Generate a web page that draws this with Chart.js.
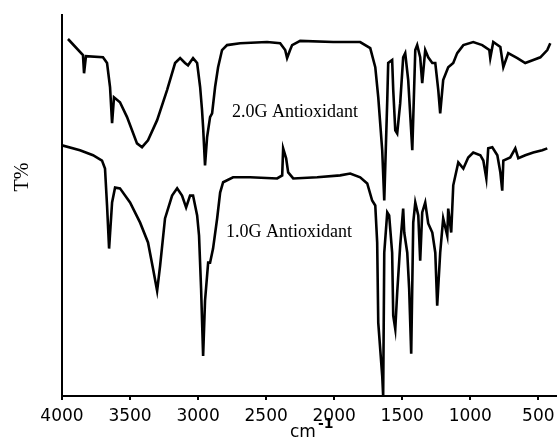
<!DOCTYPE html>
<html>
<head>
<meta charset="utf-8">
<script src="https://cdn.jsdelivr.net/npm/chart.js@4"></script>
<style>
  html, body { margin: 0; padding: 0; background: #fff; }
  #wrap { width: 558px; height: 441px; }
</style>
</head>
<body>
<div id="wrap"><canvas id="irChart" width="558" height="441"></canvas></div>
<script>
// FTIR spectra (wavenumber cm-1 / transmittance, arbitrary offset units)
const xTicks = [4000, 3500, 3000, 2500, 2000, 1500, 1000, 500];
const xTitle = 'cm';
const xTitleSup = '-1';
const yTitle = 'T%';
const labelTop = '2.0G Antioxidant';
const labelBottom = '1.0G Antioxidant';

const wn2G = [3956, 3846, 3838, 3824, 3699, 3669, 3647, 3632, 3618, 3574, 3522, 3449, 3412, 3368, 3301, 3228,
  3169, 3132, 3096, 3074, 3037, 3007, 2985, 2971, 2963, 2949, 2934, 2912, 2897, 2875, 2853, 2824, 2787, 2691,
  2493, 2397, 2360, 2346, 2324, 2309, 2250, 2007, 1904, 1809, 1735, 1698, 1676, 1647, 1632, 1610, 1603, 1574,
  1566, 1551, 1537, 1515, 1493, 1478, 1456, 1426, 1404, 1390, 1368, 1353, 1331, 1309, 1279, 1257, 1235, 1221,
  1199, 1162, 1125, 1096, 1051, 978, 912, 860, 853, 831, 779, 757, 721, 654, 596, 537, 485, 434, 412];
const t2G = [93.7, 89.5, 84.7, 89.2, 88.9, 87.4, 81.1, 71.6, 78.4, 77.1, 73.2, 66.3, 65.3, 67.1, 72.4, 80.3,
  87.4, 88.7, 87.4, 86.8, 88.7, 87.4, 81.1, 75.0, 70.5, 60.5, 67.9, 73.2, 74.2, 81.1, 86.3, 90.8, 92.1, 92.6,
  92.9, 92.6, 90.8, 88.7, 90.8, 92.1, 93.2, 92.9, 92.9, 92.9, 91.3, 86.3, 78.4, 64.5, 51.3, 77.6, 87.4, 88.2,
  80.3, 69.7, 68.9, 76.8, 88.9, 90.0, 82.9, 64.5, 90.8, 92.1, 88.9, 82.1, 90.8, 88.9, 87.4, 87.4, 80.3, 74.2,
  82.9, 86.3, 87.4, 90.0, 92.1, 92.9, 92.1, 90.8, 88.7, 92.9, 91.6, 86.3, 90.0, 88.7, 87.4, 88.2, 88.9, 90.8, 92.6];

const wn1G = [4000, 3868, 3772, 3706, 3684, 3669, 3654, 3632, 3610, 3574, 3500, 3426, 3368, 3331, 3301, 3279,
  3243, 3191, 3154, 3118, 3088, 3059, 3037, 3007, 2993, 2978, 2963, 2949, 2926, 2912, 2890, 2860, 2838, 2816,
  2743, 2618, 2419, 2382, 2375, 2353, 2338, 2301, 2125, 1956, 1882, 1809, 1757, 1721, 1698, 1684, 1676, 1647,
  1640, 1632, 1610, 1596, 1574, 1566, 1551, 1537, 1515, 1493, 1485, 1463, 1449, 1434, 1419, 1404, 1382, 1368,
  1353, 1331, 1309, 1279, 1257, 1243, 1221, 1199, 1169, 1162, 1140, 1125, 1088, 1051, 1015, 978, 926, 904, 882,
  868, 838, 801, 779, 765, 757, 706, 669, 647, 596, 537, 471, 434];
const t1G = [65.8, 64.5, 63.2, 61.8, 59.7, 50.0, 38.7, 50.8, 54.7, 54.5, 50.8, 45.5, 40.3, 33.4, 27.6, 34.2,
  46.6, 52.6, 54.5, 52.6, 49.5, 52.6, 52.6, 47.4, 42.1, 28.2, 10.5, 25.0, 35.0, 35.0, 38.7, 46.6, 53.4, 56.1,
  57.4, 57.4, 57.1, 57.9, 65.0, 62.4, 58.7, 57.1, 57.4, 57.9, 58.4, 57.4, 55.8, 51.3, 50.0, 40.3, 19.2, 5.3,
  0.0, 37.6, 48.2, 47.4, 37.6, 21.1, 17.6, 27.1, 39.5, 49.2, 42.9, 37.6, 28.2, 11.1, 45.5, 50.8, 47.4, 35.5,
  48.2, 50.8, 45.3, 42.9, 37.6, 23.7, 37.6, 46.6, 42.1, 49.2, 42.9, 55.3, 61.3, 59.7, 62.6, 63.9, 63.2, 61.8, 57.1,
  65.0, 65.3, 63.2, 58.7, 53.9, 61.8, 62.6, 65.0, 62.4, 63.2, 63.9, 64.5, 65.0];

const toPoints = (xs, ys) => xs.map((x, i) => ({ x: x, y: ys[i] }));

// text drawn on the canvas: curve labels, y title and cm-1 title
const textPlugin = {
    id: 'irText',
    afterDraw(chart) {
        const c = chart.ctx;
        const xs = chart.scales.x;
        const ys = chart.scales.y;
        c.save();
        c.fillStyle = '#000';
        c.textBaseline = 'middle';
        c.textAlign = 'left';
        c.font = '18px "Liberation Serif", "Times New Roman", serif';
        c.fillText(labelTop, xs.getPixelForValue(2750), ys.getPixelForValue(74.5));
        c.fillText(labelBottom, xs.getPixelForValue(2795), ys.getPixelForValue(43));

        // y title, rotated
        c.save();
        c.translate(23, 177);
        c.rotate(-Math.PI / 2);
        c.textAlign = 'center';
        c.font = '20px "Liberation Serif", serif';
        c.fillText(yTitle, 0, 0);
        c.restore();

        // x title with superscript
        c.font = '17px "DejaVu Sans", sans-serif';
        c.textAlign = 'left';
        c.fillText(xTitle, 290, 433);
        c.font = 'bold 14px "DejaVu Sans", sans-serif';
        c.fillText(xTitleSup, 318, 424);
        c.restore();
    }
};

const chart = new Chart(document.getElementById('irChart'), {
    type: 'line',
    data: {
        datasets: [{
            label: labelTop,
            data: toPoints(wn2G, t2G),
            borderColor: '#000',
            borderWidth: 2.6,
            pointRadius: 0,
            tension: 0,
        }, {
            label: labelBottom,
            data: toPoints(wn1G, t1G),
            borderColor: '#000',
            borderWidth: 2.6,
            pointRadius: 0,
            tension: 0,
        }]
    },
    options: {
        responsive: false,
        animation: false,
        layout: { padding: { top: 15, left: 62, right: 2, bottom: 8.6 } },
        plugins: {
            legend: { display: false },
            tooltip: { enabled: false },
        },
        scales: {
            x: {
                type: 'linear',
                reverse: true,
                min: 370,
                max: 4000,
                afterBuildTicks: (axis) => { axis.ticks = xTicks.map(v => ({ value: v })); },
                // the axis runs on past the 500 label, so drop the label overhang padding
                afterFit: (axis) => { axis.paddingRight = 0; axis.paddingLeft = 0; },
                grid: { display: true, drawOnChartArea: false, drawTicks: true, tickLength: 4, color: '#000', lineWidth: 2 },
                border: { display: true, color: '#000', width: 2 },
                ticks: {
                    color: '#000',
                    padding: 6,
                    maxRotation: 0,
                    autoSkip: false,
                    callback: (v) => String(v),
                    font: { family: '"DejaVu Sans", sans-serif', size: 17 },
                },
            },
            y: {
                min: 0,
                max: 100,
                grid: { display: false, drawTicks: false },
                border: { display: true, color: '#000', width: 2 },
                ticks: { display: false },
            }
        }
    },
    plugins: [textPlugin]
});
</script>
</body>
</html>
